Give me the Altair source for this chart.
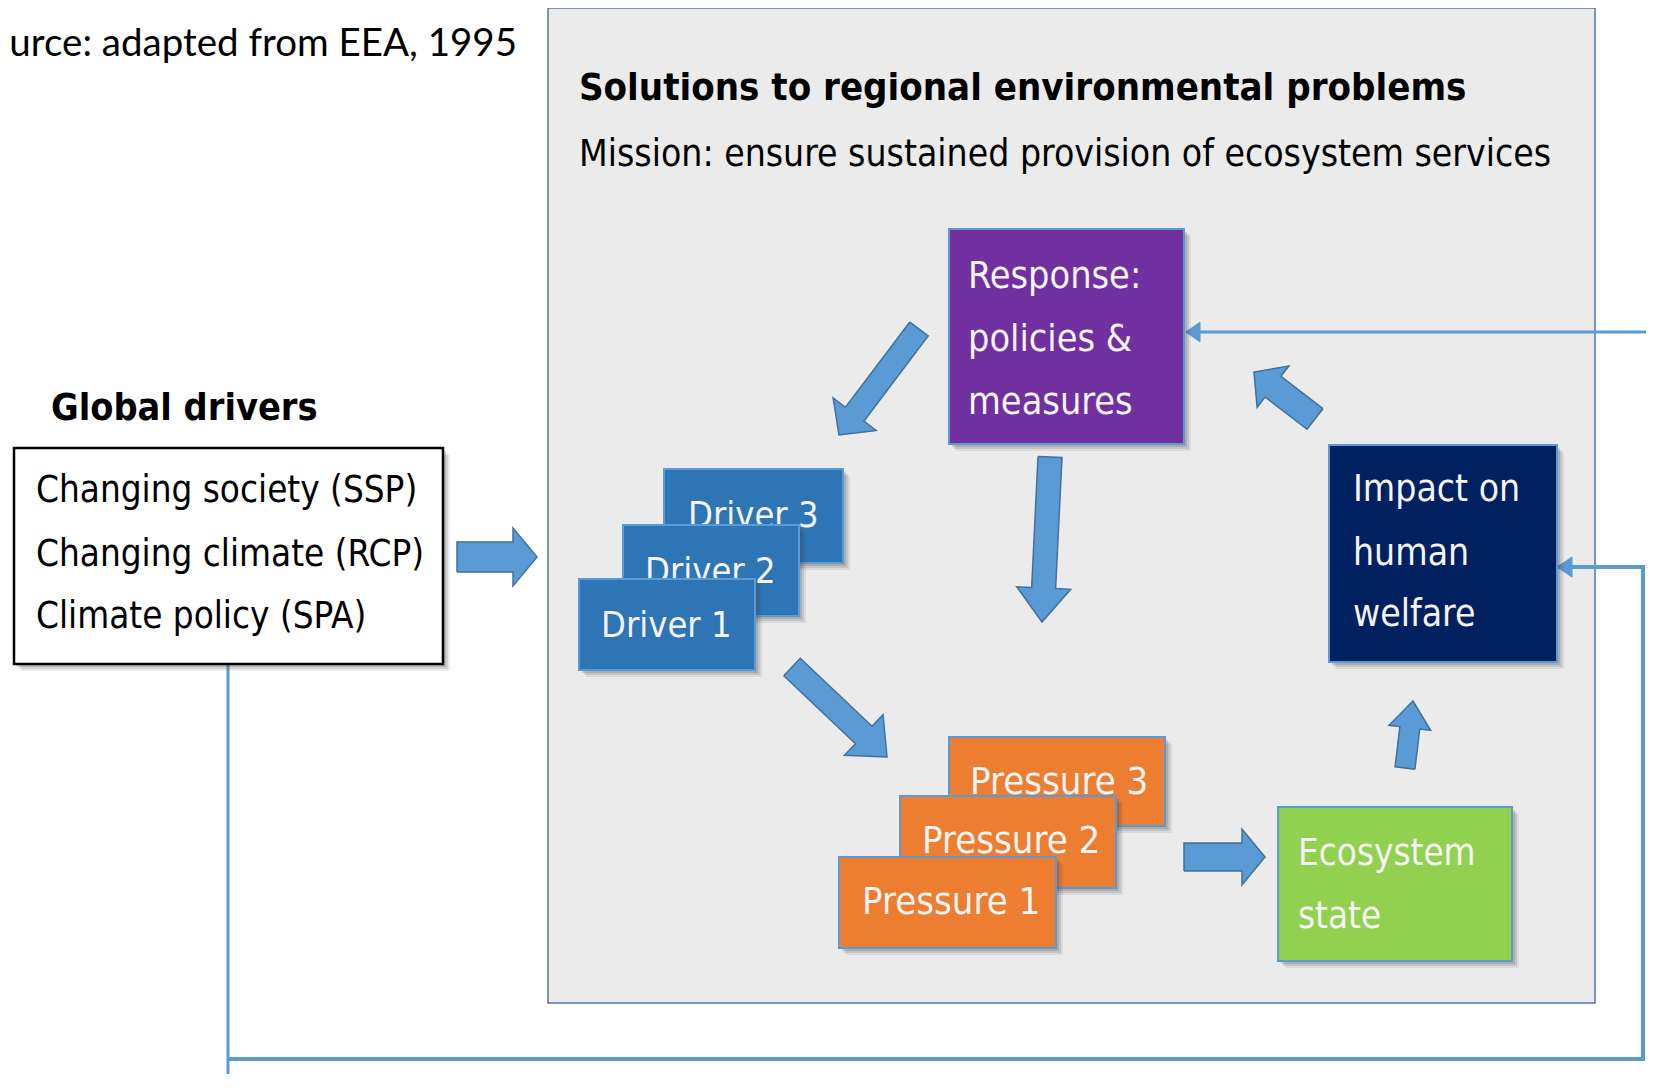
import altair as alt
import numpy as np
import pandas as pd

# ---------------- canvas (reference pixel coordinates) ----------------
W, H = 1638, 1066
X0, Y0 = 8, 8
xs = alt.Scale(domain=[X0, X0 + W], nice=False, zero=False)
ys = alt.Scale(domain=[Y0, Y0 + H], nice=False, zero=False, reverse=True)

NARROW = "Liberation Sans Narrow, DejaVu Sans Condensed, Roboto Condensed, sans-serif"
PLAIN = "Lato, Open Sans, sans-serif"

# ---------------- boxes ----------------
box_id = ["main", "global", "response", "impact", "driver3", "driver2", "driver1",
          "pressure3", "pressure2", "pressure1", "ecosystem"]
box_left = [548, 14, 949, 1329, 664, 623, 579, 949, 900, 839, 1278]
box_right = [1595, 443, 1184, 1557, 843, 799, 755, 1165, 1116, 1056, 1512]
box_top = [8, 448, 229, 445, 469, 525, 579, 737, 796, 857, 807]
box_bottom = [1003, 664, 444, 662, 563, 616, 670, 826, 888, 948, 961]
box_fill = ["#ebebeb", "#ffffff", "#7030a0", "#002060", "#2e75b6", "#2e75b6", "#2e75b6",
            "#ed7d31", "#ed7d31", "#ed7d31", "#92d050"]
box_edge = ["#55779f", "#000000", "#5b9bd5", "#5b9bd5", "#5b9bd5", "#5b9bd5", "#5b9bd5",
            "#5b9bd5", "#5b9bd5", "#5b9bd5", "#5b9bd5"]
box_edge_w = [1.5, 2.5, 2, 2, 2, 2, 2, 2, 2, 2, 2]
box_shadow = [0, 1, 1, 1, 1, 1, 1, 1, 1, 1, 1]

# ---------------- texts ----------------
text_group = ["free", "free", "free", "free",
              "global", "global", "global",
              "response", "response", "response",
              "impact", "impact", "impact",
              "driver3", "driver2", "driver1",
              "pressure3", "pressure2", "pressure1",
              "ecosystem", "ecosystem"]
text_label = ["Source: adapted from EEA, 1995",
              "Solutions to regional environmental problems",
              "Mission: ensure sustained provision of ecosystem services",
              "Global drivers",
              "Changing society (SSP)", "Changing climate (RCP)", "Climate policy (SPA)",
              "Response:", "policies &", "measures",
              "Impact on", "human", "welfare",
              "Driver 3", "Driver 2", "Driver 1",
              "Pressure 3", "Pressure 2", "Pressure 1",
              "Ecosystem", "state"]
text_x = [517, 579, 579, 51,
          36, 36, 36,
          968, 968, 968,
          1353, 1353, 1353,
          688, 645, 601,
          970, 922, 862,
          1298, 1298]
text_y = [44, 89, 155, 409,
          491, 555, 617,
          277, 340, 403,
          490, 554, 615,
          516, 572, 626,
          783, 842, 903,
          854, 917]
text_size = [38.5, 38, 37, 37.5,
             36.5, 36.5, 36.5,
             37.5, 37.5, 37.5,
             37, 37, 37,
             36, 36, 36,
             38, 38, 38,
             36.5, 36.5]
text_bold = [0, 1, 0, 1] + [0] * 17
text_font = [PLAIN, NARROW, NARROW, NARROW] + [NARROW] * 17
text_color = ["#000000"] * 7 + ["#f4f4f4"] * 14
text_align = ["right"] + ["left"] * 20

# ---------------- block arrows ----------------
arrow_tail_x = [457, 919, 1050, 792, 1184, 1405, 1315]
arrow_tail_y = [557, 329, 457, 667, 857, 768, 419]
arrow_tip_x = [537, 839, 1042, 887, 1265, 1413, 1254]
arrow_tip_y = [557, 435, 622, 757, 857, 701, 372]
arrow_shaft = [15, 11.5, 12, 12, 14, 10, 13]
arrow_head = [29, 27, 27, 28, 28, 21, 26]
arrow_head_len = [24, 26, 34, 32, 23, 27, 24]

# ---------------- feedback connector lines ----------------
conn_id = ["toResponse"] * 5 + ["toImpact"] * 4
conn_x = [228, 228, 1660, 1660, 1186, 228, 1643, 1643, 1558]
conn_y = [664, 1087, 1087, 332, 332, 1059, 1059, 567, 567]
conn_w = {"toResponse": 3, "toImpact": 4}
# small arrowheads at the connector ends
tip_base_x = [1200, 1572]
tip_base_y = [332, 567]
tip_x = [1186, 1557]
tip_y = [332, 567]
tip_half = [10, 10]


def arrow_polygon(tx, ty, px, py, s, h, L):
    T = np.array([tx, ty], float)
    P = np.array([px, py], float)
    u = (P - T) / np.linalg.norm(P - T)
    n = np.array([-u[1], u[0]])
    B = P - u * L
    return [T + n * s, B + n * s, B + n * h, P, B - n * h, B - n * s, T - n * s, T + n * s]


rows = []
for i in range(len(arrow_tail_x)):
    pts = arrow_polygon(arrow_tail_x[i], arrow_tail_y[i], arrow_tip_x[i], arrow_tip_y[i],
                        arrow_shaft[i], arrow_head[i], arrow_head_len[i])
    for k, p in enumerate(pts):
        rows.append({"aid": i, "k": k, "x": p[0], "y": p[1]})
arrows_df = pd.DataFrame(rows)

rows = []
for i in range(len(tip_x)):
    L = abs(tip_base_x[i] - tip_x[i])
    pts = arrow_polygon(tip_base_x[i], tip_base_y[i], tip_x[i], tip_y[i], 0, tip_half[i], L)
    for k, p in enumerate(pts):
        rows.append({"aid": i, "k": k, "x": p[0], "y": p[1]})
tips_df = pd.DataFrame(rows)

conn_df = pd.DataFrame({"cid": conn_id, "k": list(range(5)) + list(range(4)),
                        "x": conn_x, "y": conn_y})

boxes = pd.DataFrame({"id": box_id, "l": box_left, "r": box_right, "t": box_top, "b": box_bottom,
                      "fill": box_fill, "edge": box_edge, "ew": box_edge_w, "shadow": box_shadow})
texts = pd.DataFrame({"g": text_group, "label": text_label, "x": text_x, "y": text_y,
                      "size": text_size, "bold": text_bold, "font": text_font,
                      "color": text_color, "align": text_align})


def X(f):
    return alt.X(f, type="quantitative", scale=xs, axis=None)


def Y(f):
    return alt.Y(f, type="quantitative", scale=ys, axis=None)


def box_layers(bid):
    b = boxes[boxes["id"] == bid].iloc[0]
    out = []
    if b["shadow"]:
        for off, op in [(7, 0.10), (5, 0.14), (3, 0.18)]:
            sd = pd.DataFrame({"l": [b["l"] + off], "r": [b["r"] + off],
                               "t": [b["t"] + off], "b": [b["b"] + off]})
            out.append(alt.Chart(sd).mark_rect(color="#404040", opacity=op).encode(
                x=X("l"), x2="r", y=Y("t"), y2="b"))
    bd = pd.DataFrame({"l": [b["l"]], "r": [b["r"]], "t": [b["t"]], "b": [b["b"]]})
    out.append(alt.Chart(bd).mark_rect(fill=b["fill"], stroke=b["edge"],
                                       strokeWidth=float(b["ew"])).encode(
        x=X("l"), x2="r", y=Y("t"), y2="b"))
    return out


def text_layers(gid):
    out = []
    for _, t in texts[texts["g"] == gid].iterrows():
        td = pd.DataFrame({"label": [t["label"]], "x": [t["x"]], "y": [t["y"]]})
        out.append(alt.Chart(td).mark_text(
            font=t["font"], fontSize=float(t["size"]),
            fontWeight="bold" if t["bold"] else "normal",
            color=t["color"], align=t["align"], baseline="middle").encode(
            x=X("x"), y=Y("y"), text="label:N"))
    return out


layers = []
layers += box_layers("main")
layers.append(alt.Chart(conn_df).mark_line(color="#5b9bd5", strokeCap="butt").encode(
    x=X("x"), y=Y("y"), detail="cid:N", order="k:Q",
    strokeWidth=alt.StrokeWidth("cid:N", scale=alt.Scale(domain=list(conn_w.keys()),
                                                         range=list(conn_w.values())), legend=None)))
layers.append(alt.Chart(tips_df).mark_line(fill="#5b9bd5", color="#5b9bd5", strokeWidth=1).encode(
    x=X("x"), y=Y("y"), detail="aid:N", order="k:Q"))
layers += text_layers("free")
layers += box_layers("global")
layers += text_layers("global")
layers.append(alt.Chart(arrows_df).mark_line(fill="#5b9bd5", color="#41719c", strokeWidth=1.5,
                                             strokeJoin="miter").encode(
    x=X("x"), y=Y("y"), detail="aid:N", order="k:Q"))
for bid in ["response", "impact", "driver3", "driver2", "driver1",
            "pressure3", "pressure2", "pressure1", "ecosystem"]:
    layers += box_layers(bid)
    layers += text_layers(bid)

chart = alt.layer(*layers).properties(
    width=W, height=H, padding=0, background="#ffffff",
    autosize=alt.AutoSizeParams(type="none")
).configure_view(stroke=None)

chart.save("out.html", embed_options={"renderer": "svg", "actions": False})
